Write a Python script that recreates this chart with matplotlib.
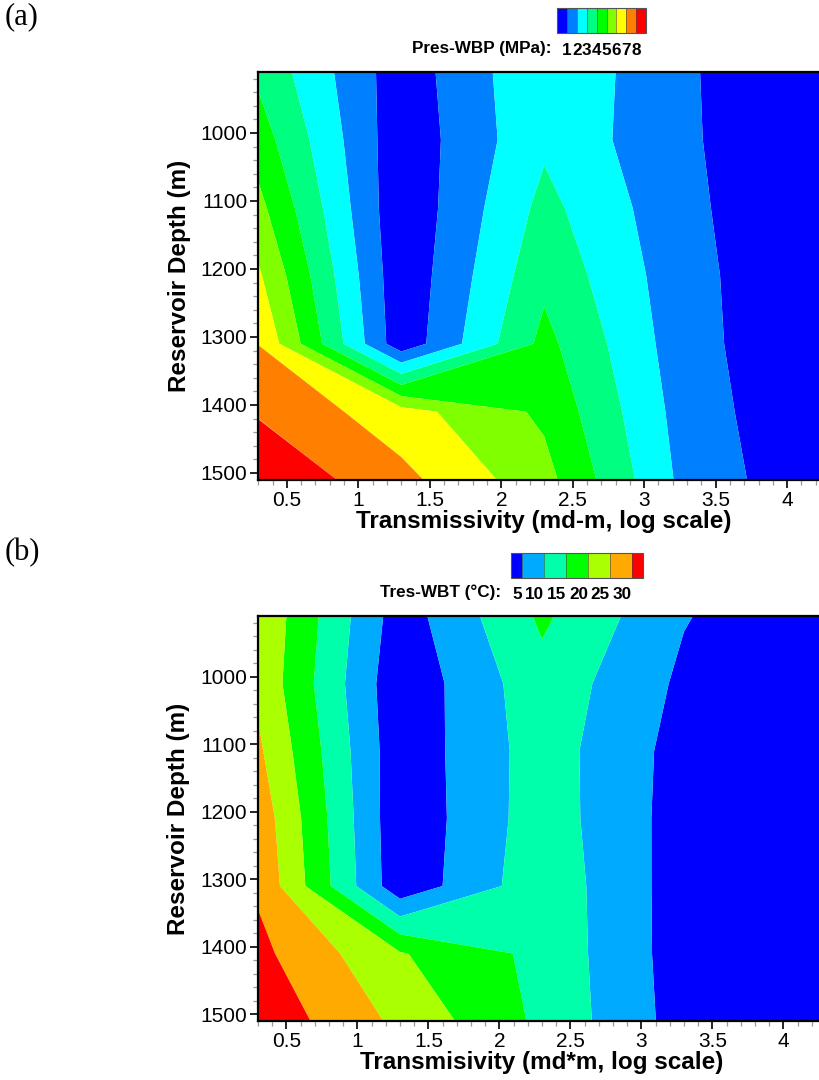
import numpy as np
import matplotlib
matplotlib.use("Agg")
import matplotlib.pyplot as plt
from matplotlib.colors import ListedColormap, BoundaryNorm
from matplotlib.ticker import MultipleLocator, FuncFormatter

# ---------------- data ----------------
log_T = [0.3, 1.3, 2.3, 3.3, 4.3]              # log10 transmissivity
depth = [910, 1010, 1110, 1210, 1310, 1410, 1510]  # reservoir depth (m)

# Pres-WBP (MPa), rows = depth, cols = log_T
pres_wbp = [
    [3.80, 0.40, 2.90, 1.10, 0.00],
    [4.50, 0.30, 2.82, 1.10, 0.19],
    [5.30, 0.20, 3.30, 1.20, 0.00],
    [6.15, 0.25, 3.75, 1.30, 0.00],
    [6.98, 0.30, 4.30, 1.35, 0.00],
    [7.90, 6.40, 4.80, 1.50, 0.00],
    [8.85, 7.30, 5.35, 1.65, 0.10],
]
# Tres-WBT (degC)
tres_wbt = [
    [24.4, 2.40, 15.9, 5.3, 0.5],
    [23.9, 1.20, 13.3, 4.0, 0.5],
    [25.9, 1.50, 12.5, 3.0, 0.5],
    [28.2, 1.20, 12.7, 2.7, 0.5],
    [29.3, 1.40, 13.4, 2.5, 0.5],
    [31.3, 20.4, 13.6, 2.5, 0.5],
    [33.6, 23.85, 13.9, 2.8, 0.5],
]

levels_a = [1, 2, 3, 4, 5, 6, 7, 8]
colors_a = ['#0000ff', '#0080ff', '#00ffff', '#00ff80', '#00ff00',
            '#80ff00', '#ffff00', '#ff8000', '#ff0000']
levels_b = [5, 10, 15, 20, 25, 30]
colors_b = ['#0000ff', '#00aaff', '#00ffaa', '#00ff00', '#aaff00',
            '#ffaa00', '#ff0000']

xlabel_a = "Transmissivity (md-m, log scale)"
xlabel_b = "Transmisivity (md*m, log scale)"
ylabel = "Reservoir Depth (m)"
cb_title_a = "Pres-WBP (MPa):"
cb_title_b = "Tres-WBT (\u00b0C):"

# ---------------- figure ----------------
plt.rcParams['font.family'] = ['Liberation Sans', 'DejaVu Sans']
W, H = 820, 1080
fig = plt.figure(figsize=(W / 100, H / 100), dpi=100)


def fa(l, t, r, b):
    return [l / W, 1 - b / H, (r - l) / W, (b - t) / H]


def fmt(v, pos):
    return '%g' % v


def draw_panel(rect, Z, levels, colors, xlabel, cax_rect, cb_title,
               title_right, extendfrac, label_ha, panel_label, label_y):
    ax = fig.add_axes(fa(*rect))
    X, Y = np.meshgrid(log_T, depth)
    Z = np.array(Z)
    cmap = ListedColormap(colors[1:-1]).with_extremes(under=colors[0],
                                                      over=colors[-1])
    norm = BoundaryNorm(levels, cmap.N)
    cs = ax.contourf(X, Y, Z, levels=levels, cmap=cmap, norm=norm,
                     extend='both', antialiased=True)
    ax.set_xlim(0.3, 4.3)
    ax.set_ylim(1510, 910)
    ax.xaxis.set_major_locator(MultipleLocator(0.5))
    ax.xaxis.set_minor_locator(MultipleLocator(0.1))
    ax.yaxis.set_major_locator(MultipleLocator(100))
    ax.yaxis.set_minor_locator(MultipleLocator(20))
    ax.xaxis.set_major_formatter(FuncFormatter(fmt))
    ax.tick_params(which='major', direction='out', length=6, width=1.2,
                   labelsize=15, pad=2, color='black')
    ax.tick_params(which='minor', direction='out', length=3.5, width=0.9,
                   color='#999999')
    ax.tick_params(top=False, right=False)
    for s in ['left', 'bottom', 'top']:
        ax.spines[s].set_linewidth(1.6)
    ax.spines['right'].set_visible(False)
    ax.set_xlabel(xlabel, fontsize=17.5, fontweight='bold', labelpad=0)
    ax.set_ylabel(ylabel, fontsize=17.5, fontweight='bold', labelpad=7)

    cax = fig.add_axes(fa(*cax_rect))
    cb = fig.colorbar(cs, cax=cax, orientation='horizontal', extend='both',
                      extendrect=True, extendfrac=extendfrac, ticks=levels,
                      drawedges=True)
    cb.outline.set_linewidth(0.8)
    cb.outline.set_edgecolor('#555555')
    cb.dividers.set_linewidth(0.4)
    cb.dividers.set_color('#444444')
    cax.tick_params(length=0, pad=7, labelsize=12.3)
    for lbl in cax.get_xticklabels():
        lbl.set_fontweight('bold')
        lbl.set_ha(label_ha)
    ty = cax_rect[3] + 15
    fig.text(title_right / W, 1 - ty / H, cb_title, fontsize=12.3,
             fontweight='bold', ha='right', va='center')
    fig.text(5 / W, 1 - label_y / H, panel_label, fontsize=22,
             family=['Liberation Serif', 'DejaVu Serif'], ha='left',
             va='center')
    return ax


draw_panel((258.3, 71.7, 830, 479.7), pres_wbp, levels_a, colors_a,
           xlabel_a, (557.3, 8.3, 646, 33.3), cb_title_a, 552, 1 / 7,
           'center', '(a)', 17)
draw_panel((258.0, 616, 826, 1021), tres_wbt, levels_b, colors_b,
           xlabel_b, (511, 553.3, 643, 577.7), cb_title_b, 501, 0.105,
           'right', '(b)', 553)

fig.savefig('out.png', dpi=100)
